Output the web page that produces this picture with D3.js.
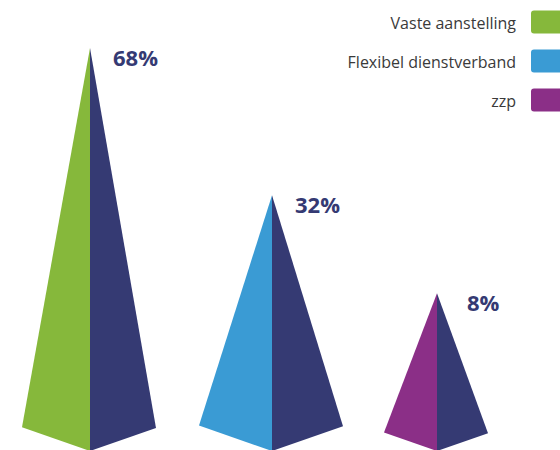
<!DOCTYPE html>
<html>
<head>
<meta charset="utf-8">
<script src="https://cdn.jsdelivr.net/npm/d3@7"></script>
<style>
    html, body { margin: 0; padding: 0; background: #fff; }
    svg { display: block; }
</style>
</head>
<body>
<div id="chart"></div>
<script>

//--- Daten ------------------------------------------------------------------------------------------------ //

var categories = ['Vaste aanstelling', 'Flexibel dienstverband', 'zzp'];
var values = [68, 32, 8];
var labels = ['68%', '32%', '8%'];

var colors = ['#86b83b', '#3a9bd4', '#8b2f87'];
var shadeColor = '#353a73';

// layout: centre of each pyramid and half of its base width
var centers = [90, 272, 437];
var halfWidths = [68, 73, 53];
var labelShift = [23, 23, 30];


//--- SVG aufbauen ----------------------------------------------------------------------------------------- //

var width = 560,
    height = 450,
    baseY = 451;

var svg = d3.select('#chart').append('svg')
    .attr('width', width)
    .attr('height', height);

var x = d3.scaleOrdinal()
    .domain(categories)
    .range(centers);

// apex height per value
var y = d3.scaleLinear()
    .domain([0, 68])
    .range([326, 48]);


//--- Pyramiden -------------------------------------------------------------------------------------------- //

var pyr = svg.selectAll('g.pyramid')
    .data(categories)
    .enter().append('g')
    .attr('class', 'pyramid');

pyr.append('path')
    .attr('fill', function(d, i) { return colors[i]; })
    .attr('d', function(d, i) {
        var cx = x(d), top = y(values[i]), hw = halfWidths[i], dy = hw * 0.35;
        return 'M' + cx + ',' + top + 'L' + (cx - hw) + ',' + (baseY - dy) + 'L' + cx + ',' + baseY + 'Z';
    });

pyr.append('path')
    .attr('fill', shadeColor)
    .attr('d', function(d, i) {
        var cx = x(d), top = y(values[i]), hw = halfWidths[i] - 2, dy = hw * 0.35;
        return 'M' + cx + ',' + top + 'L' + cx + ',' + baseY + 'L' + (cx + hw) + ',' + (baseY - dy) + 'Z';
    });

pyr.append('text')
    .attr('x', function(d, i) { return x(d) + labelShift[i]; })
    .attr('y', function(d, i) { return y(values[i]) + 18; })
    .attr('font-family', '"Open Sans", sans-serif')
    .attr('font-weight', 'bold')
    .attr('font-size', 22)
    .attr('fill', shadeColor)
    .text(function(d, i) { return labels[i]; });


//--- Legende ---------------------------------------------------------------------------------------------- //

var legend = svg.selectAll('g.legend')
    .data(categories)
    .enter().append('g')
    .attr('class', 'legend')
    .attr('transform', function(d, i) { return 'translate(0,' + (22 + i * 39) + ')'; });

legend.append('rect')
    .attr('x', 531)
    .attr('y', -11.5)
    .attr('width', 36)
    .attr('height', 23)
    .attr('rx', 3)
    .attr('fill', function(d, i) { return colors[i]; });

legend.append('text')
    .attr('x', 516)
    .attr('y', 7)
    .attr('text-anchor', 'end')
    .attr('font-family', '"Open Sans", sans-serif')
    .attr('font-weight', 500)
    .attr('font-size', 16)
    .attr('fill', '#3a3a3a')
    .text(function(d) { return d; });

</script>
</body>
</html>
